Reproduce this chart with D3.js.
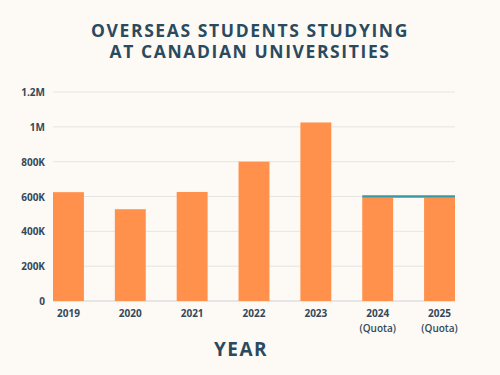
<!DOCTYPE html>
<html>
<head>
<meta charset="utf-8">
<script src="https://cdn.jsdelivr.net/npm/d3@7"></script>
<style>
  body { margin: 0; background: #fdfaf5; }
  svg { display: block; }
</style>
</head>
<body>
<div id="chart"></div>
<script>
// data
const years = [`2019`, `2020`, `2021`, `2022`, `2023`, `2024`, `2025`];
const subLabels = [``, ``, ``, ``, ``, `(Quota)`, `(Quota)`];
const students = [625000, 527000, 626000, 800000, 1025000, 593000, 593000];
const quotaYears = [`2024`, `2025`];
const quotaLevel = 600000;
const yTicks = [0, 200000, 400000, 600000, 800000, 1000000, 1200000];
const yTickLabels = [`0`, `200K`, `400K`, `600K`, `800K`, `1M`, `1.2M`];

const width = 500;
const height = 375;
const margin = {top: 92, right: 45, bottom: 74, left: 53};
const innerWidth = width - margin.left - margin.right;
const innerHeight = height - margin.top - margin.bottom;

const fontFamily = `"Open Sans", "Noto Sans", sans-serif`;
const titleColor = `#2b4a5e`;
const labelColor = `#34485a`;
const barColor = `#ff914d`;
const quotaColor = `#3a9aa3`;

const svg = d3.select(`#chart`)
  .append(`svg`)
    .attr(`width`, width)
    .attr(`height`, height);

svg.append(`rect`)
  .attr(`width`, width)
  .attr(`height`, height)
  .attr(`fill`, `#fdfaf5`);

const g = svg.append(`g`)
  .attr(`transform`, `translate(${margin.left},${margin.top})`);

const xScale = d3.scaleBand()
  .domain(years)
  .range([0, innerWidth])
  .paddingInner(0.5)
  .paddingOuter(0);

const yScale = d3.scaleLinear()
  .domain([0, 1200000])
  .range([innerHeight, 0]);

// gridlines
g.append(`g`)
  .selectAll(`line`)
  .data(yTicks)
  .join(`line`)
    .attr(`x1`, 0)
    .attr(`x2`, innerWidth)
    .attr(`y1`, d => yScale(d))
    .attr(`y2`, d => yScale(d))
    .attr(`stroke`, d => d === 0 ? `#cfd2d6` : `#e6e4e0`)
    .attr(`stroke-width`, 1);

// y axis
const yAxis = g.append(`g`)
  .call(d3.axisLeft(yScale)
    .tickValues(yTicks)
    .tickFormat((d, i) => yTickLabels[i])
    .tickSize(0)
    .tickPadding(8))
  .attr(`fill`, null)
  .attr(`font-family`, null)
  .attr(`font-size`, null);
yAxis.select(`.domain`).remove();
yAxis.selectAll(`text`)
  .attr(`dy`, null)
  .attr(`y`, 3.5)
  .style(`font-family`, fontFamily)
  .style(`font-size`, `10px`)
  .style(`font-weight`, `700`)
  .attr(`fill`, labelColor);

// bars
g.append(`g`)
  .selectAll(`rect`)
  .data(years)
  .join(`rect`)
    .attr(`x`, d => xScale(d))
    .attr(`y`, (d, i) => yScale(students[i]))
    .attr(`width`, xScale.bandwidth())
    .attr(`height`, (d, i) => innerHeight - yScale(students[i]))
    .attr(`fill`, barColor);

// quota line
g.append(`line`)
  .attr(`x1`, xScale(quotaYears[0]))
  .attr(`x2`, xScale(quotaYears[1]) + xScale.bandwidth())
  .attr(`y1`, yScale(quotaLevel))
  .attr(`y2`, yScale(quotaLevel))
  .attr(`stroke`, quotaColor)
  .attr(`stroke-width`, 2.5);

// x axis
const xAxis = g.append(`g`)
  .attr(`transform`, `translate(0,${innerHeight})`)
  .call(d3.axisBottom(xScale).tickSize(0))
  .attr(`fill`, null)
  .attr(`font-family`, null)
  .attr(`font-size`, null);
xAxis.select(`.domain`).remove();
xAxis.selectAll(`text`)
  .attr(`dy`, null)
  .attr(`y`, 16)
  .style(`font-family`, fontFamily)
  .style(`font-size`, `10px`)
  .style(`font-weight`, `700`)
  .attr(`fill`, labelColor);

xAxis.selectAll(`.tick`)
  .filter((d, i) => subLabels[i] !== ``)
  .append(`text`)
    .attr(`y`, 31)
    .attr(`text-anchor`, `middle`)
    .style(`font-family`, fontFamily)
    .style(`font-size`, `10px`)
    .style(`font-weight`, `600`)
    .attr(`fill`, labelColor)
    .text(d => subLabels[years.indexOf(d)]);

// title
const title = svg.append(`text`)
  .attr(`x`, width / 2)
  .attr(`text-anchor`, `middle`)
  .style(`font-family`, fontFamily)
  .style(`font-size`, `17.5px`)
  .style(`font-weight`, `700`)
  .style(`letter-spacing`, `1.6px`)
  .attr(`fill`, titleColor);
title.append(`tspan`).attr(`x`, width / 2).attr(`y`, 37).text(`OVERSEAS STUDENTS STUDYING`);
title.append(`tspan`).attr(`x`, width / 2).attr(`y`, 58).text(`AT CANADIAN UNIVERSITIES`);

svg.append(`text`)
  .attr(`x`, 241)
  .attr(`y`, 356)
  .attr(`text-anchor`, `middle`)
  .style(`font-family`, fontFamily)
  .style(`font-size`, `19px`)
  .style(`font-weight`, `700`)
  .style(`letter-spacing`, `1.5px`)
  .attr(`fill`, titleColor)
  .text(`YEAR`);
</script>
</body>
</html>
